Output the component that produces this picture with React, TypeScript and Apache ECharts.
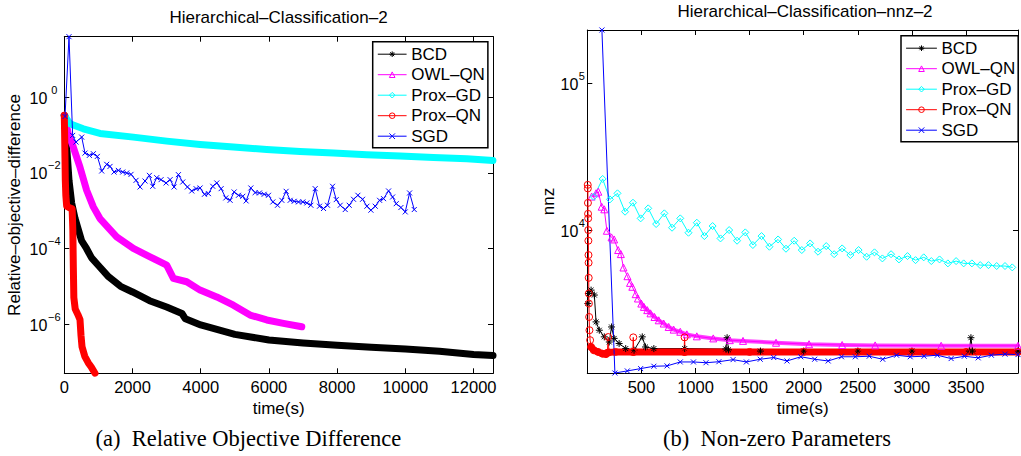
import { useEffect, useRef } from 'react';
import * as echarts from 'echarts';

const FONT = "'Liberation Sans', Arial, Helvetica, sans-serif";
const SERIF = "'Liberation Serif', 'Times New Roman', serif";

const SERIES_NAMES = ['BCD', 'OWL–QN', 'Prox–GD', 'Prox–QN', 'SGD'];
const COLORS = ['#000000', '#ff00ff', '#00ffff', '#ff0000', '#0000ff'];

const SYM_STAR = 'path://M5,0L5,10M0,5L10,5M1.5,1.5L8.5,8.5M8.5,1.5L1.5,8.5';
const SYM_TRI = 'path://M5,0L10,8.66L0,8.66Z';
const SYM_DIA = 'path://M5,0L10,5L5,10L0,5Z';
const SYM_CIRC = 'path://M10,5A5,5,0,1,1,0,5A5,5,0,1,1,10,5Z';
const SYM_X = 'path://M0,0L10,10M10,0L0,10';
const SYMBOLS = [SYM_STAR, SYM_TRI, SYM_DIA, SYM_CIRC, SYM_X];

const TITLE_A = 'Hierarchical–Classification–2';
const TITLE_B = 'Hierarchical–Classification–nnz–2';
const CAPTION_A = '(a)\u2002Relative Objective Difference';
const CAPTION_B = '(b)\u2002Non-zero Parameters';
const X_NAME = 'time(s)';
const Y_NAME_A = 'Relative–objective–difference';
const Y_NAME_B = 'nnz';

// ---------- (a) relative objective difference : [time(s), value] ----------
const bcdRel = [[0, 0.331], [20, 0.316], [60, 0.0631], [100, 0.02], [138, 0.00631], [217, 0.00158], [314, 6.31e-4], [411, 3.16e-4], [510, 1.58e-4], [650, 1.0e-4], [800, 5.62e-5], [1000, 3.55e-5], [1300, 1.78e-5], [1650, 1.0e-5], [2000, 7.08e-6], [2500, 4.17e-6], [3000, 2.82e-6], [3450, 1.91e-6], [3550, 1.38e-6], [4000, 9.55e-7], [5000, 5.37e-7], [6000, 3.8e-7], [7000, 3.16e-7], [8000, 2.75e-7], [9000, 2.45e-7], [10000, 2.19e-7], [11000, 1.91e-7], [12000, 1.58e-7], [12570, 1.48e-7]];
const owlRel = [[0, 0.331], [117, 0.107], [264, 0.0479], [460, 0.0141], [655, 0.00347], [851, 0.00126], [1046, 6.17e-4], [1535, 2.04e-4], [2024, 1.0e-4], [2513, 6.03e-5], [3002, 3.63e-5], [3198, 1.62e-5], [3589, 1.32e-5], [3980, 7.94e-6], [4469, 5.25e-6], [4958, 3.16e-6], [5447, 1.74e-6], [5936, 1.29e-6], [6425, 1.05e-6], [6963, 8.51e-7]];
const gdRel = [[0, 0.331], [166, 0.198], [557, 0.146], [1046, 0.11], [2024, 0.0881], [3002, 0.069], [3980, 0.0564], [4958, 0.048], [5936, 0.0416], [6914, 0.0368], [7892, 0.0333], [8870, 0.0301], [9848, 0.0277], [10826, 0.0256], [11804, 0.0236], [12567, 0.0213]];
const qnRel = [[0, 0.331], [10, 0.1], [20, 0.0251], [30, 0.00631], [45, 0.00251], [70, 0.00132], [150, 0.0012], [230, 0.00112], [250, 3.16e-4], [265, 3.16e-5], [280, 5.01e-6], [320, 2.51e-6], [400, 1.78e-6], [460, 1.32e-6], [490, 5.01e-7], [520, 2.51e-7], [600, 1.41e-7], [700, 9.55e-8], [800, 7.08e-8], [900, 5.01e-8]];
const sgdRel = [[21, 0.309], [138, 39.8], [245, 0.0977], [343, 0.0652], [510, 0.0881], [607, 0.0333], [735, 0.029], [852, 0.0321], [969, 0.0272], [1096, 0.0112], [1243, 0.0168], [1341, 0.0148], [1458, 0.0105], [1585, 0.0116], [1713, 0.0105], [1830, 0.00991], [1957, 0.00912], [2104, 0.00634], [2221, 0.00423], [2368, 0.00608], [2495, 0.00859], [2593, 0.00441], [2710, 0.00745], [2837, 0.00661], [2984, 0.0054], [3102, 0.00661], [3219, 0.00423], [3346, 0.00895], [3473, 0.00573], [3610, 0.00423], [3737, 0.00332], [3864, 0.00382], [3982, 0.00398], [4109, 0.00271], [4226, 0.00282], [4353, 0.00441], [4471, 0.0054], [4598, 0.00382], [4735, 0.00217], [4862, 0.00188], [4980, 0.00312], [5107, 0.00255], [5234, 0.0024], [5332, 0.00181], [5469, 0.00398], [5596, 0.003], [5723, 0.00294], [5860, 0.00271], [5987, 0.00255], [6114, 0.0017], [6251, 0.00139], [6378, 0.00188], [6505, 0.00325], [6623, 0.00188], [6740, 0.00177], [6867, 0.0017], [6994, 0.0017], [7112, 0.0016], [7229, 0.00139], [7356, 0.00382], [7483, 0.00131], [7601, 0.00114], [7718, 0.00139], [7865, 0.00441], [7973, 0.00196], [8090, 0.00139], [8237, 0.00107], [8354, 0.00139], [8481, 0.002], [8608, 0.00255], [8745, 0.002], [8873, 0.00131], [8990, 0.00103], [9117, 0.00131], [9244, 0.00188], [9361, 0.00208], [9508, 0.00332], [9626, 0.0023], [9733, 0.00153], [9870, 0.00121], [9997, 0.000927], [10124, 0.00294], [10261, 0.00107]];

// ---------- (b) non-zero parameters : [time(s), nnz] ----------
const bcdNnz = [[5, 3160], [12, 3700], [35, 3900], [65, 3610], [81, 2370], [111, 2080], [157, 1875], [203, 1730], [224, 2190], [248, 1830], [294, 1690], [355, 1560], [432, 1520], [508, 1875], [538, 1600], [615, 1560], [900, 1560], [1280, 1550], [1292, 1850], [1305, 1530], [1600, 1500], [2000, 1500], [2500, 1500], [3000, 1500], [3530, 1500], [3545, 1850], [3560, 1500], [3980, 1500]];
const owlNnz = [[40, 16900], [81, 17800], [102, 18240], [133, 14420], [157, 13840], [181, 9890], [224, 8910], [248, 8630], [285, 7310], [310, 6860], [334, 5560], [371, 4850], [395, 4370], [416, 4110], [447, 3660], [468, 3420], [499, 3160], [523, 3000], [554, 2850], [584, 2710], [621, 2560], [660, 2430], [706, 2310], [752, 2190], [798, 2100], [859, 2030], [920, 1950], [1012, 1890], [1164, 1830], [1317, 1780], [1439, 1760], [1744, 1710], [2049, 1670], [2355, 1650], [2660, 1640], [3270, 1630], [3980, 1630]];
const gdNnz = [[59, 16870], [142, 22280], [209, 16170], [279, 17780], [349, 13330], [422, 15350], [493, 12010], [563, 14050], [636, 10990], [712, 12990], [783, 10370], [859, 12010], [935, 9590], [1012, 11220], [1082, 9100], [1158, 10650], [1231, 8770], [1311, 10000], [1384, 8460], [1460, 9640], [1530, 7910], [1610, 9100], [1683, 7700], [1763, 8630], [1836, 7460], [1912, 8460], [1982, 7310], [2059, 8110], [2132, 7120], [2208, 7780], [2281, 6850], [2355, 7500], [2431, 6760], [2507, 7310], [2581, 6580], [2654, 7050], [2727, 6410], [2807, 6850], [2880, 6310], [2959, 6650], [3033, 6240], [3109, 6520], [3179, 6150], [3255, 6310], [3332, 5930], [3408, 6150], [3478, 5930], [3554, 5930], [3631, 5770], [3707, 5770], [3783, 5690], [3860, 5690], [3927, 5570]];
const qnNnz = [[4, 20300], [5, 19200], [6, 15300], [7, 12900], [8, 12000], [9, 10000], [10, 8460], [11, 6760], [12, 5990], [13, 4730], [14, 3700], [15, 3160], [17, 2560], [20, 2080], [26, 1780], [35, 1600], [60, 1520], [100, 1480], [140, 1440], [172, 1430], [185, 1460], [193, 1870], [200, 1470], [260, 1480], [420, 1480], [425, 1860], [430, 1480], [894, 1480], [899, 1860], [904, 1480], [1500, 1480], [2000, 1480], [2500, 1480], [3000, 1480], [3500, 1480], [3980, 1480]];
const qnNnzSpikeTimes = [193, 425, 899];
const sgdNnz = [[135, 230000], [255, 1064], [370, 1099], [493, 1140], [615, 1183], [737, 1189], [859, 1265], [981, 1265], [1097, 1250], [1216, 1270], [1347, 1312], [1470, 1265], [1598, 1320], [1723, 1356], [1845, 1285], [1973, 1372], [2101, 1320], [2226, 1285], [2349, 1372], [2477, 1372], [2605, 1384], [2730, 1320], [2858, 1406], [2984, 1372], [3112, 1384], [3234, 1406], [3362, 1334], [3484, 1384], [3612, 1349], [3734, 1406], [3860, 1430], [3980, 1420]];

const toLog = (d: number[][]) => d.map(([t, v]) => [t, Math.log10(v)]);
const allA = [bcdRel, owlRel, gdRel, qnRel, sgdRel];
const allB = [bcdNnz, owlNnz, gdNnz, qnNnz, sgdNnz];
const ext = (sets: number[][][], idx: number, f: (...a: number[]) => number) =>
  f(...sets.flatMap((s) => s.map((p) => p[idx])));

function supFormatter(step: number) {
  return (v: number) => {
    const r = Math.round(v);
    if (Math.abs(v - r) > 1e-6 || r % step !== 0) return '';
    const e = r < 0 ? '\u2212' + Math.abs(r) : String(r);
    return `{b|10}{s|${e}}`;
  };
}

function xAxisPair(gridIndex: number, max: number, interval: number, showZero: boolean, nameGap: number) {
  const line = { show: true, onZero: false, lineStyle: { color: '#000', width: 1 } };
  const tick = { show: true, inside: true, length: 5, lineStyle: { color: '#000', width: 1 } };
  return [
    {
      gridIndex, type: 'value', position: 'bottom', min: 0, max, interval,
      axisLine: line, axisTick: tick, splitLine: { show: false },
      axisLabel: {
        margin: 5, color: '#000', fontFamily: FONT, fontSize: 16.5,
        formatter: (v: number) => (v % interval === 0 && (showZero || v !== 0) ? String(v) : ''),
      },
      name: X_NAME, nameLocation: 'middle', nameGap,
      nameTextStyle: { color: '#000', fontFamily: FONT, fontSize: 17 },
    },
    {
      gridIndex, type: 'value', position: 'top', min: 0, max, interval,
      axisLine: line, axisTick: tick, splitLine: { show: false }, axisLabel: { show: false },
    },
  ];
}

function yAxisPair(gridIndex: number, min: number, max: number, step: number, supWidth: number, margin: number, name: string, nameGap: number) {
  const line = { show: true, onZero: false, lineStyle: { color: '#000', width: 1 } };
  const tick = { show: true, inside: true, length: 5, lineStyle: { color: '#000', width: 1 } };
  return [
    {
      gridIndex, type: 'value', position: 'left', min, max, minInterval: step, maxInterval: step,
      axisLine: line, axisTick: tick, splitLine: { show: false },
      axisLabel: {
        margin, formatter: supFormatter(step), padding: [0, 0, 4, 0],
        rich: {
          b: { fontSize: 16, fontFamily: FONT, color: '#000', padding: [6, 0, 0, 0], verticalAlign: 'bottom' },
          s: { fontSize: 11, fontFamily: FONT, color: '#000', verticalAlign: 'top', width: supWidth, align: 'left' },
        },
      },
      name, nameLocation: 'middle', nameGap,
      nameTextStyle: { color: '#000', fontFamily: FONT, fontSize: 17 },
    },
    {
      gridIndex, type: 'value', position: 'right', min, max, minInterval: step, maxInterval: step,
      axisLine: line, axisTick: tick, splitLine: { show: false }, axisLabel: { show: false },
    },
  ];
}

function legendFor(left: number, top: number, itemWidth: number) {
  return {
    data: SERIES_NAMES, orient: 'vertical', left, top, itemWidth, itemHeight: 7, itemGap: 3.5,
    padding: [4, 3, 3, 5], borderColor: '#000', borderWidth: 1.5, backgroundColor: '#fff',
    textStyle: { color: '#000', fontFamily: FONT, fontSize: 17, lineHeight: 17 },
    lineStyle: { width: 1 }, itemStyle: { borderWidth: 1 }, selectedMode: false, z: 10,
  };
}

function lineSeries(i: number, data: number[][], xi: number, yi: number, width: number, showSymbol: boolean, size: number, opacity = 1) {
  return {
    type: 'line', name: SERIES_NAMES[i], xAxisIndex: xi, yAxisIndex: yi, data: toLog(data),
    symbol: SYMBOLS[i], symbolSize: size, showSymbol, showAllSymbol: true,
    lineStyle: { color: COLORS[i], width, join: 'round', cap: 'round', opacity },
    itemStyle: { color: 'rgba(0,0,0,0)', borderColor: COLORS[i], borderWidth: 1 },
    emphasis: { disabled: true }, silent: true,
  };
}

export default function App() {
  const ref = useRef<HTMLDivElement>(null);
  useEffect(() => {
    if (!ref.current) return;
    const chart = echarts.init(ref.current, undefined, { renderer: 'svg' });
    const aXMax = ext(allA, 0, Math.max);
    const aYMin = Math.log10(ext(allA, 1, Math.min));
    const aYMax = Math.log10(ext(allA, 1, Math.max));
    const bXMax = ext(allB, 0, Math.max);
    const bYMin = Math.log10(ext(allB, 1, Math.min));
    const bYMax = Math.log10(ext(allB, 1, Math.max));
    const qnBand = qnNnz.filter(([t]) => t >= 35 && !qnNnzSpikeTimes.includes(t));
    const owlBand = owlNnz.filter(([t]) => t >= 499);

    const option: any = {
      animation: false,
      backgroundColor: '#fff',
      grid: [
        { left: 64.3, top: 36.7, width: 428.7, height: 336.6 },
        { left: 587.3, top: 30, width: 433.4, height: 343 },
      ],
      xAxis: [...xAxisPair(0, aXMax, 2000, true, 24), ...xAxisPair(1, bXMax, 500, false, 22)],
      yAxis: [
        ...yAxisPair(0, aYMin, aYMax, 2, 14, 3, Y_NAME_A, 41),
        ...yAxisPair(1, bYMin, bYMax, 1, 7, 2, Y_NAME_B, 30),
      ],
      legend: [legendFor(372.7, 41.7, 28), legendFor(901, 35.7, 30)],
      series: [
        lineSeries(0, bcdRel, 0, 0, 7, false, 6),
        lineSeries(1, owlRel, 0, 0, 7, false, 6),
        lineSeries(2, gdRel, 0, 0, 7, false, 6),
        lineSeries(3, qnRel, 0, 0, 7, false, 6),
        lineSeries(4, sgdRel, 0, 0, 1, true, 5),
        lineSeries(0, bcdNnz, 2, 2, 1, true, 7),
        lineSeries(1, owlNnz, 2, 2, 1, true, 7),
        lineSeries(1, owlBand, 2, 2, 4, false, 7, 0.75),
        lineSeries(2, gdNnz, 2, 2, 1, true, 7),
        lineSeries(3, qnNnz, 2, 2, 1, true, 7),
        lineSeries(3, qnBand, 2, 2, 7, false, 7),
        lineSeries(4, sgdNnz, 2, 2, 1, true, 5),
      ],
      graphic: [
        { type: 'text', x: 278.5, y: 17, style: { text: TITLE_A, fill: '#000', font: `17px ${FONT}`, align: 'center', verticalAlign: 'middle' } },
        { type: 'text', x: 805, y: 11.5, style: { text: TITLE_B, fill: '#000', font: `17px ${FONT}`, align: 'center', verticalAlign: 'middle' } },
        { type: 'text', x: 248.3, y: 438, style: { text: CAPTION_A, fill: '#000', font: `22.5px ${SERIF}`, align: 'center', verticalAlign: 'middle' } },
        { type: 'text', x: 777, y: 438, style: { text: CAPTION_B, fill: '#000', font: `22.5px ${SERIF}`, align: 'center', verticalAlign: 'middle' } },
      ],
    };
    chart.setOption(option);
    return () => chart.dispose();
  }, []);
  return (
    <div
      ref={ref}
      style={{ position: 'fixed', left: 0, top: 0, width: 1021, height: 456, background: '#fff' }}
    />
  );
}
